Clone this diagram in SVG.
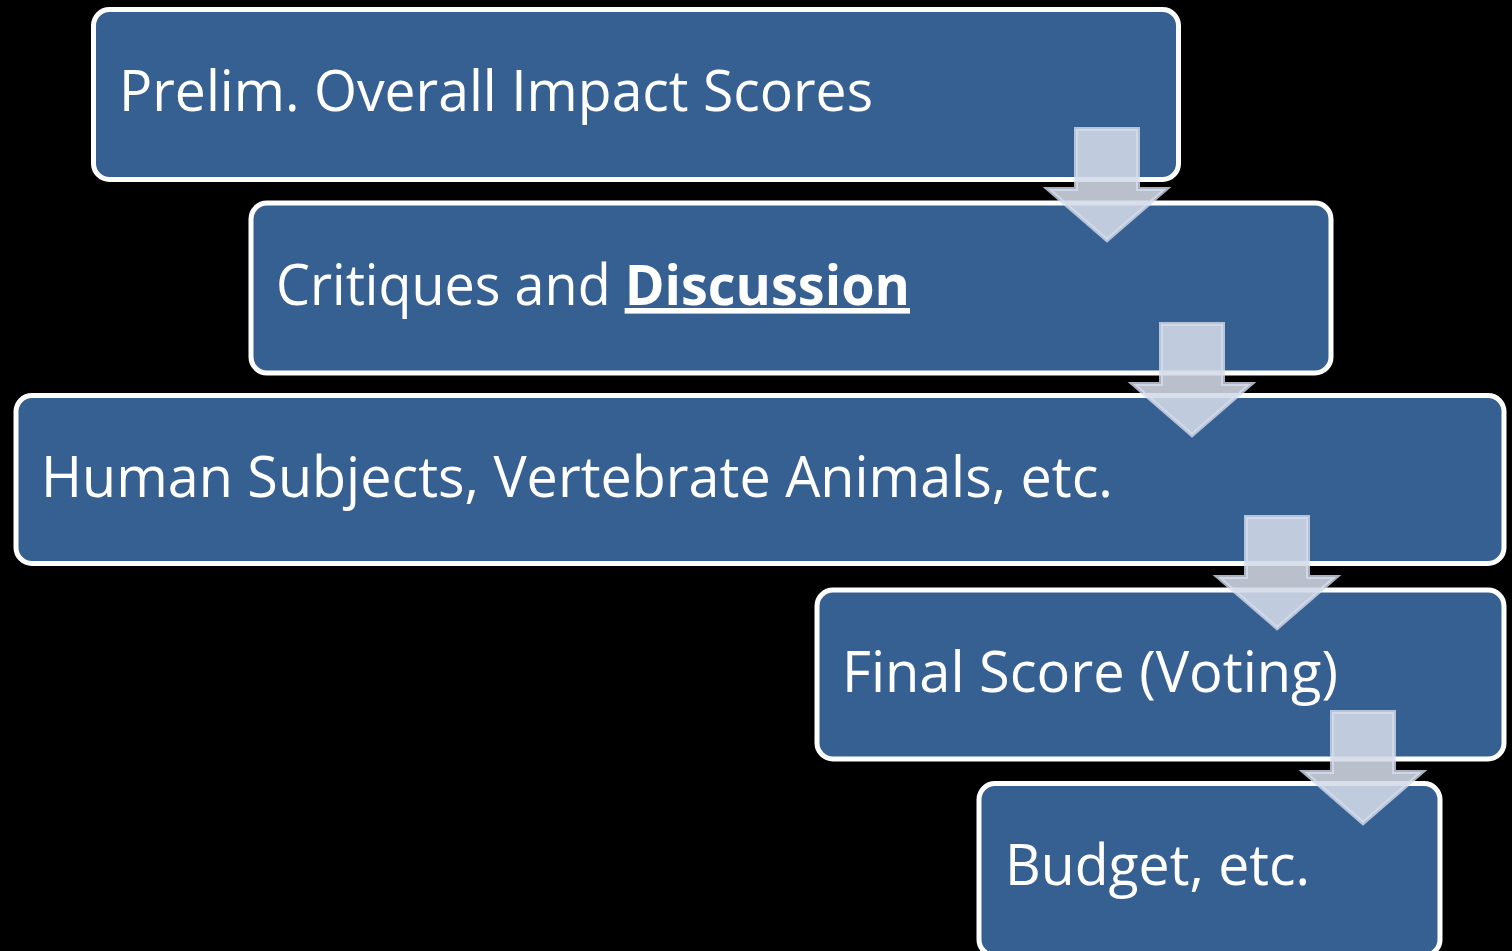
<svg xmlns="http://www.w3.org/2000/svg" xmlns:xlink="http://www.w3.org/1999/xlink" width="1512" height="951" viewBox="0 0 1512 951">
<style>
.box{fill:#376092;stroke:#ffffff;stroke-width:5}
.lbl{font-family:"Open Sans","Noto Sans",sans-serif;font-size:56px;fill:#ffffff}
.arr{fill:rgba(212,218,232,0.88);stroke:rgba(214,221,236,0.8);stroke-width:4;stroke-linejoin:miter}
</style>
<defs>
<path id="arrow" d="M-31,2 H31 V62 H59 L0,113 L-59,62 H-31 Z"/>
</defs>
<rect width="1512" height="951" fill="#000000"/>
<g id="node1">
<rect class="box" x="93.5" y="9.5" width="1085" height="170" rx="16"/>
<text class="lbl" x="119" y="111" textLength="754" lengthAdjust="spacingAndGlyphs">Prelim. Overall Impact Scores</text>
</g>
<g id="node2">
<rect class="box" x="251" y="203" width="1080" height="170" rx="16"/>
<text class="lbl" x="276" y="305" textLength="634" lengthAdjust="spacingAndGlyphs">Critiques and <tspan font-weight="bold" text-decoration="underline">Discussion</tspan></text>
</g>
<g id="node3">
<rect class="box" x="16" y="395.5" width="1488" height="168" rx="16"/>
<text class="lbl" x="41" y="497" textLength="1072" lengthAdjust="spacingAndGlyphs">Human Subjects, Vertebrate Animals, etc.</text>
</g>
<g id="node4">
<rect class="box" x="817" y="590" width="687" height="169" rx="16"/>
<text class="lbl" x="842" y="692" textLength="496" lengthAdjust="spacingAndGlyphs">Final Score (Voting)</text>
</g>
<g id="node5">
<rect class="box" x="979" y="783.5" width="461" height="172" rx="16"/>
<text class="lbl" x="1005" y="885" textLength="305" lengthAdjust="spacingAndGlyphs">Budget, etc.</text>
</g>
<g id="connectors">
<use class="arr" xlink:href="#arrow" href="#arrow" x="1107" y="127"/>
<use class="arr" xlink:href="#arrow" href="#arrow" x="1192" y="322"/>
<use class="arr" xlink:href="#arrow" href="#arrow" x="1277" y="515"/>
<use class="arr" xlink:href="#arrow" href="#arrow" x="1363" y="710"/>
</g>
</svg>
